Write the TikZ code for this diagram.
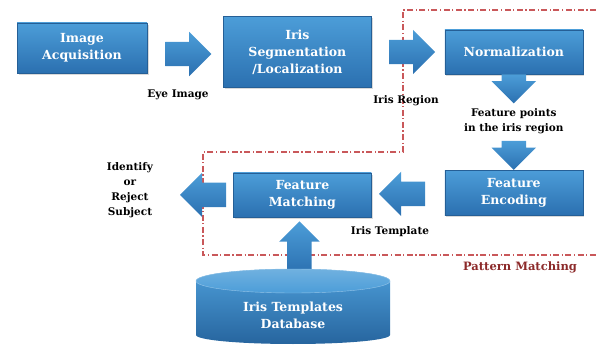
\documentclass[tikz,border=0pt]{standalone}
\usepackage{fontspec}
\setmainfont{DejaVu Serif}
\usetikzlibrary{positioning,calc,shapes.arrows,shadows}
\definecolor{boxtop}{HTML}{4C9DD8}
\definecolor{boxbot}{HTML}{2B70B0}
\definecolor{pmred}{HTML}{C9585A}
\definecolor{pmtext}{HTML}{8C2A2A}
\tikzset{boxtext/.style={text=white,font=\fontsize{12.5}{17}\selectfont\bfseries,align=center,inner sep=2pt},
         block/.style={boxtext,top color=boxtop,bottom color=boxbot,draw=boxbot!85!black,thin,
           drop shadow={opacity=0.3,shadow xshift=1.5pt,shadow yshift=-2pt}},
         fatarrow/.style={single arrow,top color=boxtop,bottom color=boxbot,draw=none,
           inner xsep=0pt,inner ysep=12pt,single arrow head extend=10pt,minimum height=46pt},
         lbl/.style={font=\fontsize{10.5}{15}\selectfont\bfseries,align=center},
         frame/.style={pmred,line width=1.1pt,dash pattern=on 6pt off 2.5pt on 1.2pt off 2.5pt}
}

\begin{document}
\begin{tikzpicture}[x=1pt,y=1pt]
\useasboundingbox (0,0) rectangle (596,345);

% frame of the matching stage
\coordinate (fr1) at (596,335);
\coordinate (fr2) at (403,335);
\coordinate (fr3) at (403,193);
\coordinate (fr4) at (203,193);
\coordinate (fr5) at (203,90);
\coordinate (fr6) at (596,90);
\draw[frame] (fr1)--(fr2)--(fr3)--(fr4)--(fr5)--(fr6);

\node[block,minimum width=130pt,minimum height=50pt] (acq) at (82,297) {Image\\Acquisition};
\node[block,minimum width=148pt,minimum height=71pt,right=76pt of acq,yshift=-4pt] (seg) {Iris\\Segmentation\\/Localization};
\node[block,minimum width=138pt,minimum height=44pt,right=73pt of seg] (norm) {Normalization};
\node[block,minimum width=138pt,minimum height=45pt,below=96pt of norm] (enc) {Feature\\Encoding};
\node[block,minimum width=138pt,minimum height=44pt,left=73pt of enc,yshift=-2pt] (match) {Feature\\Matching};

% fat arrows
\node[fatarrow] (a1) at ($(acq.east)!0.5!(seg.west)+(-3,-4)$) {};
\node[fatarrow] (a2) at ($(seg.east)!0.5!(norm.west)+(-2,0)$) {};
\node[fatarrow,rotate=-90,anchor=tail,minimum height=29pt] (a3) at (norm.south) {};
\node[lbl,below=1pt of a3.tip] (pts) {Feature points\\in the iris region};
\node[fatarrow,rotate=-90,anchor=tip,minimum height=29pt] (a4) at (enc.north) {};
\node[fatarrow,shape border rotate=180] (a5) at ($(enc.west)!0.5!(match.east)$) {};
\node[fatarrow,shape border rotate=180,anchor=tail] (a6) at ($(match.west)+(-7,0)$) {};
\node[fatarrow,rotate=90,anchor=tip,minimum height=52pt,single arrow head extend=8pt] (a7) at ($(match.south)+(-3,-4)$) {};

% database
\path[top color=boxtop,bottom color=boxbot!90!black] (196,64) -- (196,10) arc[start angle=180,end angle=360,x radius=97,y radius=9] -- (390,64) arc[start angle=0,end angle=180,x radius=97,y radius=12] -- cycle;
\path[top color=boxtop!80!white,bottom color=boxtop,draw=boxtop!60!white] (293,64) ellipse[x radius=97,y radius=12];
\node[boxtext] (db) at (293,30) {Iris Templates\\Database};

% labels
\node[lbl] (eye) at (178,250) {Eye Image};
\node[lbl] (reg) at (406,244) {Iris Region};
\node[lbl] (tmpl) at (390,113) {Iris Template};
\node[lbl] (out) at (130,155) {Identify\\or\\Reject\\Subject};
\node[lbl,text=pmtext,font=\fontsize{11.5}{14}\selectfont\bfseries] (pm) at (520,78) {Pattern Matching};

\end{tikzpicture}
\end{document}
